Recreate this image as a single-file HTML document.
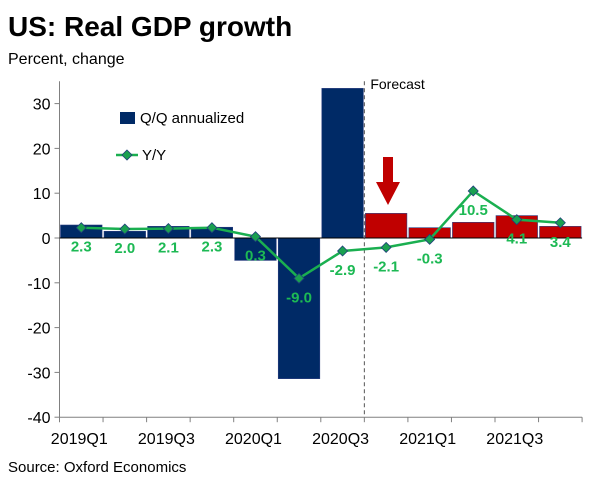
<!DOCTYPE html>
<html><head><meta charset="utf-8"><style>
body{margin:0;width:602px;height:492px;background:#fff;overflow:hidden;font-family:"Liberation Sans",Arial,sans-serif}
</style></head><body>
<svg id="c" width="602" height="492" xmlns="http://www.w3.org/2000/svg">
<text x="8" y="36" font-size="28" font-weight="bold" fill="#000">US: Real GDP growth</text>
<text x="8" y="64" font-size="16" fill="#000">Percent, change</text>
<text x="8" y="472" font-size="15" fill="#000">Source: Oxford Economics</text>
<g id="plot"></g>
</svg>
<script>
const categories=["2019Q1","2019Q2","2019Q3","2019Q4","2020Q1","2020Q2","2020Q3","2020Q4","2021Q1","2021Q2","2021Q3","2021Q4"];
const qoq=[2.9,1.5,2.6,2.4,-5.0,-31.4,33.4,5.5,2.3,3.5,5.0,2.6];
const yoy=[2.3,2.0,2.1,2.3,0.3,-9.0,-2.9,-2.1,-0.3,10.5,4.1,3.4];
const yTicks=[30,20,10,0,-10,-20,-30,-40];
const forecastStart=7;
const NS="http://www.w3.org/2000/svg";
const g=document.getElementById('plot');
const x0=59.5,bw=43.55;
function xs(i){return x0+bw*i;}
function ys(v){return 238-v*4.48;}
function mk(t,a,p){const e=document.createElementNS(NS,t);for(const k in a)e.setAttribute(k,a[k]);(p||g).appendChild(e);return e;}
qoq.forEach((v,i)=>{
 const r=mk('rect',{x:xs(i)+1,y:Math.min(ys(v),ys(0)),width:bw-2,height:Math.abs(ys(v)-ys(0)),fill:i>=forecastStart?'#c00000':'#002a66',stroke:'#2a3d80','stroke-width':0.6});
 
 
});
const ya=mk('line',{x1:x0,y1:ys(35),x2:x0,y2:ys(-40),stroke:'#808080','stroke-width':1});

yTicks.forEach(t=>{
 mk('line',{x1:x0-5,y1:ys(t),x2:x0,y2:ys(t),stroke:'#808080'});
 const tx=mk('text',{x:x0-9,y:ys(t)+6,'font-size':16,'text-anchor':'end',fill:'#000'});tx.textContent=t;
 
});
mk('line',{x1:x0,y1:ys(0),x2:xs(12),y2:ys(0),stroke:'#000','stroke-width':1});
const xa=mk('line',{x1:x0,y1:ys(-40),x2:xs(12),y2:ys(-40),stroke:'#808080'});

for(let i=0;i<=12;i++)mk('line',{x1:xs(i),y1:ys(-40),x2:xs(i),y2:ys(-40)+5,stroke:'#808080'});
categories.forEach((c,i)=>{if(i%2==0){const t=mk('text',{x:xs(i)+bw/2-2,y:444,'font-size':16,'text-anchor':'middle',fill:'#000'});t.textContent=c;
 }});
const fl=mk('line',{x1:xs(forecastStart),y1:ys(35),x2:xs(forecastStart),y2:ys(-40),stroke:'#555','stroke-dasharray':'4,3'});

const ft=mk('text',{x:xs(forecastStart)+6,y:89,'font-size':14,fill:'#000'});ft.textContent='Forecast';

const ar=mk('path',{d:'M383 157 H393 V182 H400 L388 205 L376 182 H383 Z',fill:'#c00000'});

const pts=yoy.map((v,i)=>(xs(i)+bw/2)+','+ys(v)).join(' ');
const pl=mk('polyline',{points:pts,fill:'none',stroke:'#1aaf50','stroke-width':2.5});

yoy.forEach((v,i)=>{
 const cx=xs(i)+bw/2,cy=ys(v);
 const d=mk('path',{d:`M${cx} ${cy-5} L${cx+5} ${cy} L${cx} ${cy+5} L${cx-5} ${cy} Z`,fill:'#1aa050',stroke:'#1f3f7a','stroke-width':0.8});
 
 const lt=mk('text',{x:cx,y:cy+24,'font-size':15,'font-weight':'bold','text-anchor':'middle',fill:'#1db954'});
 lt.textContent=v.toFixed(1);
 
});
const lr=mk('rect',{x:120,y:112,width:15,height:12,fill:'#002a66'});

const l1=mk('text',{x:140,y:123,'font-size':15,fill:'#000'});l1.textContent='Q/Q annualized';

mk('line',{x1:116,y1:155,x2:138,y2:155,stroke:'#1aaf50','stroke-width':2.5});
mk('path',{d:'M127 150 L132 155 L127 160 L122 155 Z',fill:'#1aa050',stroke:'#1f3f7a','stroke-width':0.8});
const l2=mk('text',{x:142,y:160,'font-size':15,fill:'#000'});l2.textContent='Y/Y';

</script>
</body></html>
